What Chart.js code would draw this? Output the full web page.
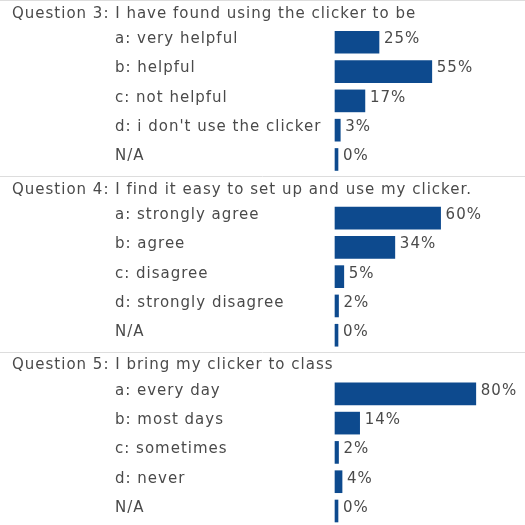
<!DOCTYPE html>
<html>
<head>
<meta charset="utf-8">
<title>Clicker survey</title>
<script src="https://cdn.jsdelivr.net/npm/chart.js@4"></script>
<style>
  html, body { margin: 0; padding: 0; background: #ffffff; }
  #chart { display: block; }
</style>
</head>
<body>
<canvas id="chart" width="525" height="525"></canvas>
<script>
// survey questions and answers
const questions = [
    "Question 3: I have found using the clicker to be",
    "Question 4: I find it easy to set up and use my clicker.",
    "Question 5: I bring my clicker to class"
];

const q3Options = ["a: very helpful", "b: helpful", "c: not helpful", "d: i don't use the clicker", "N/A"];
const q3Values = [25, 55, 17, 3, 0];

const q4Options = ["a: strongly agree", "b: agree", "c: disagree", "d: strongly disagree", "N/A"];
const q4Values = [60, 34, 5, 2, 0];

const q5Options = ["a: every day", "b: most days", "c: sometimes", "d: never", "N/A"];
const q5Values = [80, 14, 2, 4, 0];

const BAR_COLOR = '#0d4a8e';
const TEXT_COLOR = '#4a4a4a';
const FONT = '15px "DejaVu Sans", Verdana, sans-serif';

// one category row per question heading, then one per answer
const rowLabels = [];
const rowValues = [];
const rowIsHeader = [];
[[q3Options, q3Values], [q4Options, q4Values], [q5Options, q5Values]].forEach(([opts, vals], qi) => {
    rowLabels.push(questions[qi]);
    rowValues.push(null);
    rowIsHeader.push(true);
    opts.forEach((o, i) => {
        rowLabels.push(o);
        rowValues.push(vals[i]);
        rowIsHeader.push(false);
    });
});

const surveyText = {
    id: 'surveyText',
    beforeDatasetsDraw(chart) {
        const ctx = chart.ctx;
        const y = chart.scales.y;
        ctx.save();
        ctx.strokeStyle = '#dddddd';
        ctx.lineWidth = 1;
        rowIsHeader.forEach((h, i) => {
            if (!h) return;
            const py = Math.round(y.getPixelForValue(i) - 13) + 0.5;
            ctx.beginPath();
            ctx.moveTo(0, py);
            ctx.lineTo(chart.width, py);
            ctx.stroke();
        });
        ctx.restore();
    },
    afterDatasetsDraw(chart) {
        const ctx = chart.ctx;
        const y = chart.scales.y;
        const meta = chart.getDatasetMeta(0);
        ctx.save();
        ctx.font = FONT;
        ctx.fillStyle = TEXT_COLOR;
        ctx.textBaseline = 'middle';
        ctx.textAlign = 'left';
        if ('letterSpacing' in ctx) ctx.letterSpacing = '1px';
        rowLabels.forEach((label, i) => {
            const py = y.getPixelForValue(i);
            if (rowIsHeader[i]) {
                ctx.fillText(label, 12, py + 1);
            } else {
                ctx.fillText(label, 115, py - 3);
                const bar = meta.data[i];
                ctx.fillText(rowValues[i] + '%', bar.x + 5, py - 3);
            }
        });
        ctx.restore();
    }
};

new Chart(document.getElementById('chart'), {
    type: 'bar',
    data: {
        labels: rowLabels,
        datasets: [{
            data: rowValues,
            backgroundColor: BAR_COLOR,
            borderWidth: 0,
            barThickness: 22,
            minBarLength: 3,
            clip: false
        }]
    },
    options: {
        indexAxis: 'y',
        responsive: false,
        animation: false,
        layout: { padding: { left: 335, right: 14, top: 13, bottom: 14 } },
        scales: {
            x: { display: false, min: 0, max: 100 },
            y: { display: false, offset: false }
        },
        plugins: {
            legend: { display: false },
            tooltip: { enabled: false }
        }
    },
    plugins: [surveyText]
});
</script>
</body>
</html>
